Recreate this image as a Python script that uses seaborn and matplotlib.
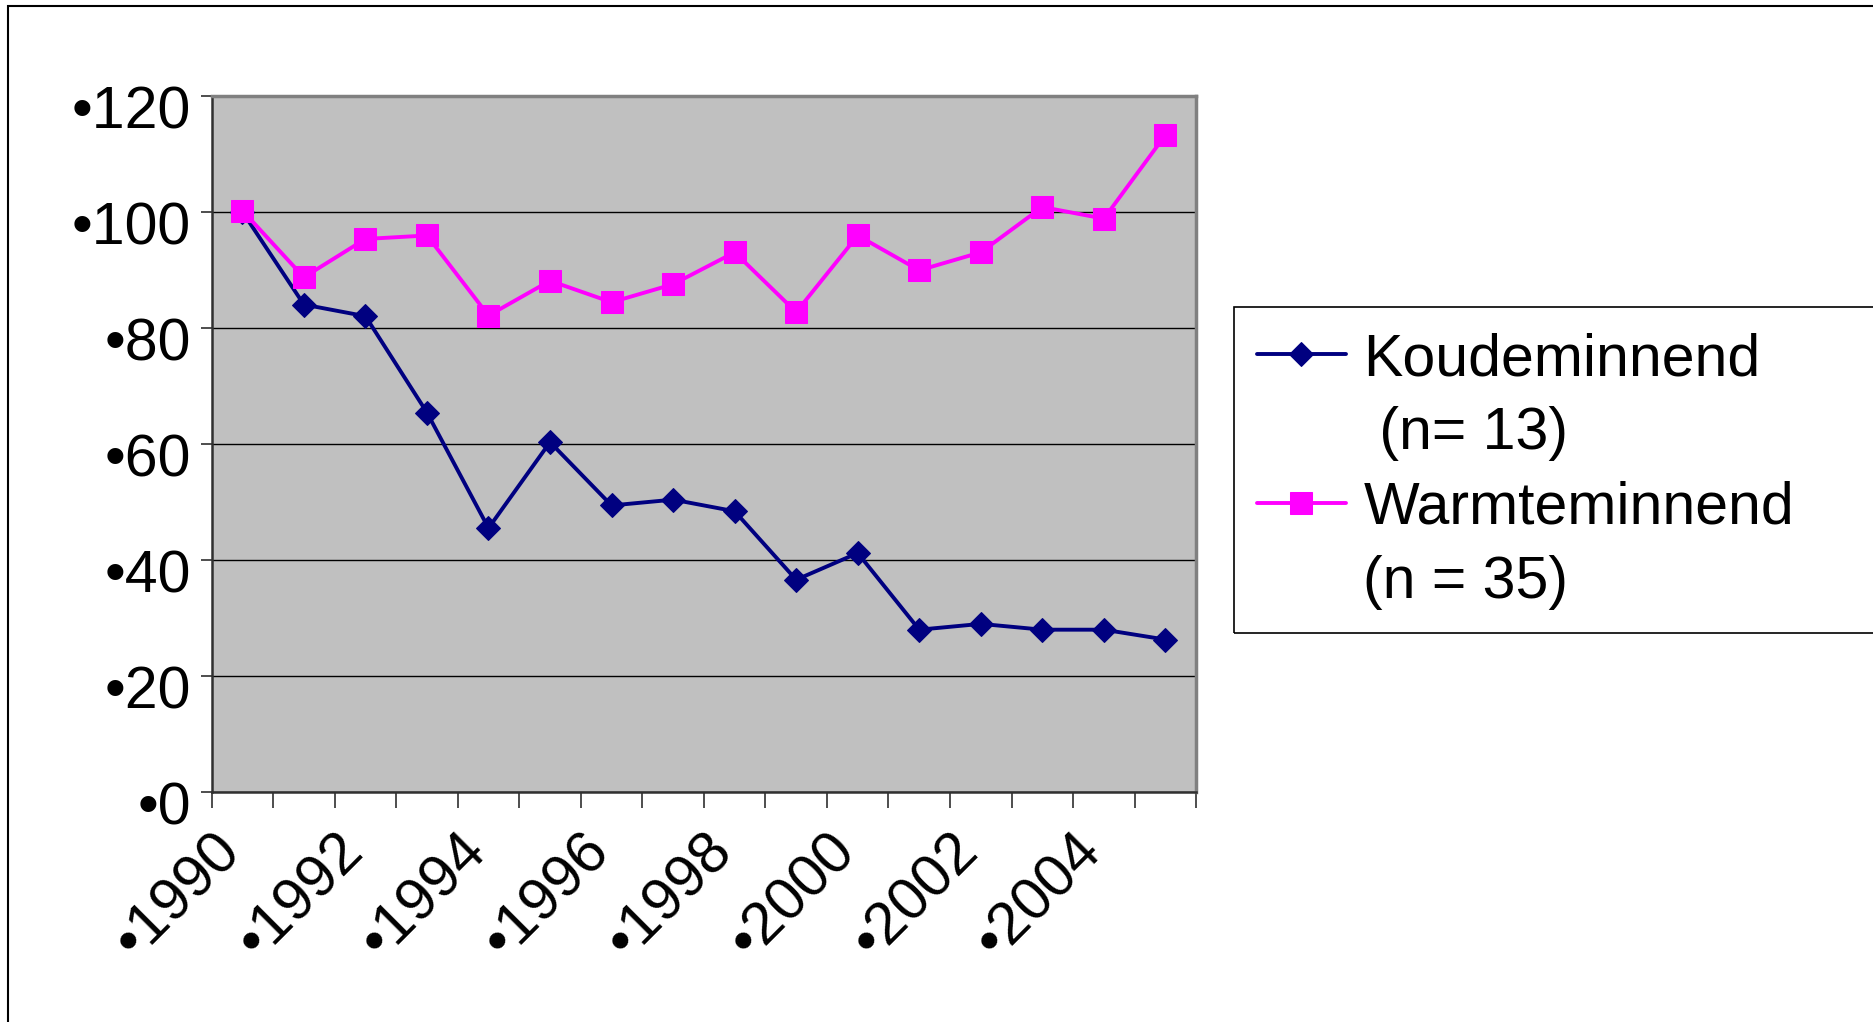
import matplotlib
matplotlib.use("Agg")
import pandas as pd
import matplotlib.pyplot as plt
import matplotlib.transforms as mtransforms
from matplotlib.lines import Line2D
from matplotlib.patches import Rectangle
import seaborn as sns

# Data (index, 1990 = 100)
years = list(range(1990, 2006))
koude = [100, 84, 82, 65.4, 45.5, 60.3, 49.4, 50.4, 48.4, 36.6, 41.2, 28, 29, 28, 28, 26.3]
warmte = [100.2, 88.7, 95.3, 95.9, 82.1, 88.1, 84.4, 87.5, 93, 82.7, 95.9, 89.9, 93, 100.8, 98.8, 113.2]
series_names = ["Koudeminnend", "Warmteminnend"]
count_labels = [" (n= 13)", "(n = 35)"]
y_ticks = [0, 20, 40, 60, 80, 100, 120]
x_label_years = [1990, 1992, 1994, 1996, 1998, 2000, 2002, 2004]

df = pd.DataFrame({"Jaar": years, series_names[0]: koude, series_names[1]: warmte})

sns.set_style("white")
plt.rcParams["font.family"] = ["Liberation Sans", "DejaVu Sans"]
plt.rcParams["text.color"] = "black"
plt.rcParams["xtick.color"] = "black"
plt.rcParams["ytick.color"] = "black"

FS = 42.5

fig, ax = plt.subplots(figsize=(18.74, 10.22), dpi=100)
fig.subplots_adjust(left=0.1129, right=0.6383, bottom=0.2248, top=0.9065)

sns.lineplot(data=df, x="Jaar", y=series_names[0], color="#000080", marker="D",
             markersize=12.5, markeredgecolor="#000080", linewidth=2.8, ax=ax)
sns.lineplot(data=df, x="Jaar", y=series_names[1], color="#FF00FF", marker="s",
             markersize=16, markeredgecolor="#FF00FF", linewidth=2.8, ax=ax)

ax.set_facecolor("#C0C0C0")
ax.set_xlim(years[0] - 0.5, years[-1] + 0.5)
ax.set_ylim(y_ticks[0], y_ticks[-1])
ax.set_xlabel("")
ax.set_ylabel("")
ax.grid(axis="y", color="black", lw=1)
ax.grid(axis="x", visible=False)

for side in ["top", "right"]:
    ax.spines[side].set_color("#808080")
    ax.spines[side].set_linewidth(2.5)
for side in ["left", "bottom"]:
    ax.spines[side].set_color("#303030")
    ax.spines[side].set_linewidth(1.8)

# y axis
ax.set_yticks(y_ticks)
ax.set_yticklabels(["\u2022%d" % v for v in y_ticks], fontsize=FS, color="black")
ax.tick_params(axis="y", length=8, width=1.2, color="#303030", direction="out", pad=7, left=True)

# x axis: tick marks between categories, labels every two years
ax.set_xticks(x_label_years)
ax.set_xticklabels(["\u2022%d" % y for y in x_label_years], fontsize=FS, color="black")
ax.set_xticks([y - 0.5 for y in years] + [years[-1] + 0.5], minor=True)
ax.tick_params(axis="x", which="major", length=0, pad=22)
ax.tick_params(axis="x", which="minor", length=11.5, width=1.2, color="#303030",
               direction="out", bottom=True)
xshift = mtransforms.ScaledTranslation(-22 / 72, 0, fig.dpi_scale_trans)
for tick in ax.xaxis.get_major_ticks():
    lab = tick.label1
    lab.set_rotation(45)
    lab.set_ha("right")
    lab.set_va("top")
    lab.set_rotation_mode("anchor")
    lab.set_transform(lab.get_transform() + xshift)

# y labels sit a bit below their gridline
shift = mtransforms.ScaledTranslation(0, -8 / 72, fig.dpi_scale_trans)
for tick in ax.yaxis.get_major_ticks():
    tick.label1.set_transform(tick.label1.get_transform() + shift)

# legend
lines = ax.get_lines()
blank = Line2D([], [], linestyle="none")
handles = [lines[0], blank, lines[1], blank]
labels = [series_names[0], count_labels[0], series_names[1], count_labels[1]]
leg = fig.legend(handles, labels, loc="upper left", bbox_to_anchor=(1257 / 1874, 1 - 332 / 1022),
                 frameon=False, borderpad=0, borderaxespad=0, fontsize=FS,
                 handlelength=1.5, handletextpad=0.3, labelspacing=0.33)
for t in leg.get_texts():
    t.set_color("black")
fig.add_artist(Rectangle((1234 / 1874, (1022 - 633) / 1022), 0.5, (633 - 307) / 1022,
                         transform=fig.transFigure, fill=False, ec="black", lw=1.2))

# outer frame
fig.add_artist(Rectangle((8 / 1874, -0.1), 1.2, 1.1 - 6 / 1022,
                         transform=fig.transFigure, fill=False, ec="black", lw=1.5))

fig.savefig("out.png", dpi=100)
